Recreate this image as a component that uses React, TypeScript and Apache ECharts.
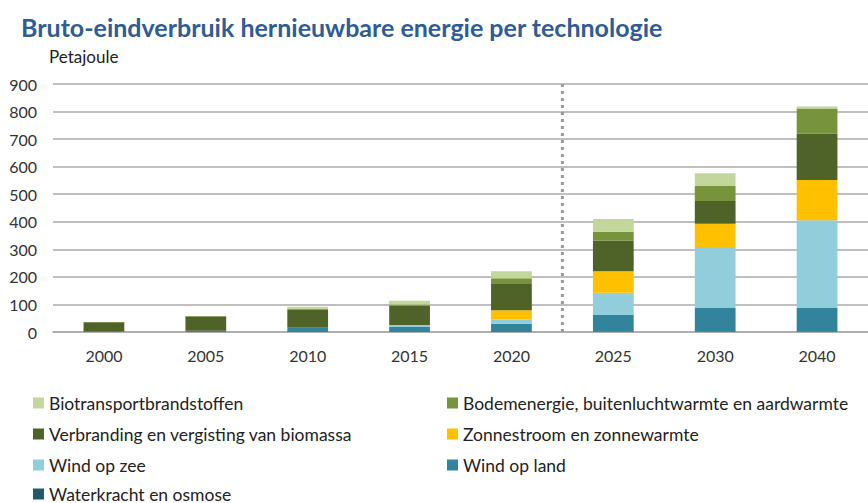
import React, { useEffect, useRef } from "react";
import * as echarts from "echarts";

const TITLE = "Bruto-eindverbruik hernieuwbare energie per technologie";
const UNIT = "Petajoule";
const years = ["2000", "2005", "2010", "2015", "2020", "2025", "2030", "2040"];

const waterkracht = [0.4, 0.4, 0.4, 0.4, 0.3, 0.5, 0.5, 0.5];
const windOpLand = [1, 4, 14, 18, 30, 61, 87, 87];
const windOpZee = [0, 0, 0, 3, 15, 81, 217, 318];
const zon = [0, 0.3, 1, 4, 34, 78, 88, 146];
const biomassa = [34, 52, 66, 70, 98, 112, 83, 169];
const bodem = [0.5, 1, 2, 4, 18, 31, 54, 91];
const biotransport = [0.5, 0.5, 8, 14, 25, 47, 47, 7];

const seriesDefs = [
  { name: "Waterkracht en osmose", data: waterkracht, color: "#215968" },
  { name: "Wind op land", data: windOpLand, color: "#31849b" },
  { name: "Wind op zee", data: windOpZee, color: "#92cddc" },
  { name: "Zonnestroom en zonnewarmte", data: zon, color: "#ffc000" },
  { name: "Verbranding en vergisting van biomassa", data: biomassa, color: "#4f6228" },
  { name: "Bodemenergie, buitenluchtwarmte en aardwarmte", data: bodem, color: "#77933c" },
  { name: "Biotransportbrandstoffen", data: biotransport, color: "#c3d69b" },
];

// legend layout: [name, column, row]
const legendItems: [string, number, number][] = [
  ["Biotransportbrandstoffen", 0, 0],
  ["Bodemenergie, buitenluchtwarmte en aardwarmte", 1, 0],
  ["Verbranding en vergisting van biomassa", 0, 1],
  ["Zonnestroom en zonnewarmte", 1, 1],
  ["Wind op zee", 0, 2],
  ["Wind op land", 1, 2],
  ["Waterkracht en osmose", 0, 3],
];

const FONT = "Lato, 'Open Sans', sans-serif";

export default function App() {
  const ref = useRef<HTMLDivElement>(null);
  useEffect(() => {
    if (!ref.current) return;
    const chart = echarts.init(ref.current, undefined, { renderer: "svg" });
    const colLeft = [33, 447];
    const rowTop = [394, 425, 456, 485];
    chart.setOption({
      animation: false,
      textStyle: { fontFamily: FONT },
      title: [
        {
          text: TITLE,
          left: 21,
          top: 14,
          padding: 0,
          textStyle: { fontFamily: FONT, fontSize: 25, fontWeight: "bold", color: "#2e5c93" },
        },
        {
          text: UNIT,
          left: 49,
          top: 48,
          padding: 0,
          textStyle: { fontFamily: FONT, fontSize: 17, fontWeight: "normal", color: "#222" },
        },
      ],
      legend: legendItems.map(([name, c, r]) => ({
        data: [name],
        left: colLeft[c],
        top: rowTop[r],
        padding: 0,
        icon: "rect",
        itemWidth: 11,
        itemHeight: 11,
        selectedMode: false,
        textStyle: { fontFamily: FONT, fontSize: 17.5, color: "#222", lineHeight: 16 },
      })),
      grid: { left: 53, right: -8, top: 84, bottom: 171, containLabel: false },
      xAxis: {
        type: "category",
        data: years,
        axisLine: { show: true, lineStyle: { color: "#aaaaaa", width: 1.5 } },
        axisTick: { show: false },
        axisLabel: { fontFamily: FONT, fontSize: 16, color: "#333", margin: 15 },
      },
      yAxis: {
        type: "value",
        min: 0,
        max: 900,
        interval: 100,
        axisLine: { show: false },
        axisTick: { show: false },
        splitLine: { lineStyle: { color: "#aaaaaa", width: 1.5 } },
        axisLabel: { fontFamily: FONT, fontSize: 16, color: "#333", margin: 16 },
      },
      series: seriesDefs.map((s) => ({
        name: s.name,
        type: "bar",
        stack: "total",
        data: s.data,
        barWidth: "40%",
        itemStyle: { color: s.color },
      })),
    });
    const x1 = chart.convertToPixel({ xAxisIndex: 0 }, years[4]) as number;
    const x2 = chart.convertToPixel({ xAxisIndex: 0 }, years[5]) as number;
    const yTop = chart.convertToPixel({ yAxisIndex: 0 }, 900) as number;
    const yBot = chart.convertToPixel({ yAxisIndex: 0 }, 0) as number;
    const xm = (x1 + x2) / 2;
    chart.setOption({
      graphic: [
        {
          type: "line",
          shape: { x1: xm, y1: yTop, x2: xm, y2: yBot },
          style: { stroke: "#999999", lineWidth: 3, lineDash: [3, 4] },
          z: 10,
        },
      ],
    });
    return () => chart.dispose();
  }, []);
  return (
    <div
      ref={ref}
      style={{ position: "absolute", left: 0, top: 0, width: 868, height: 503, overflow: "hidden", background: "#fff" }}
    />
  );
}
